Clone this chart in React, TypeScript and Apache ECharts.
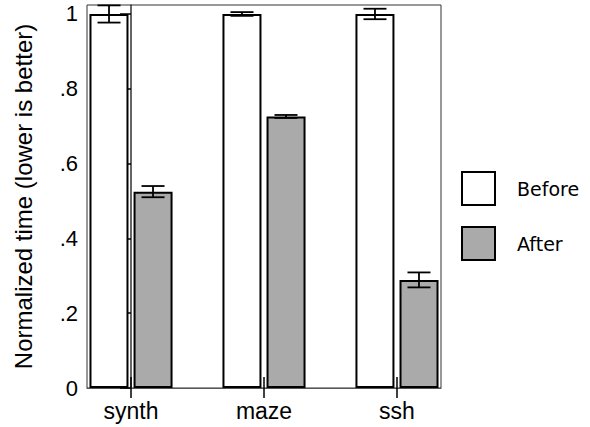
import React, { useEffect, useRef } from "react";
import * as echarts from "echarts";

const categories = ["synth", "maze", "ssh"];
const categoryPositions = [0, 1, 2];
const beforeValues = [1, 1, 1];
const beforeErrors = [0.023, 0.005, 0.014];
const afterValues = [0.525, 0.726, 0.289];
const afterErrors = [0.015, 0.004, 0.02];
const yTicks = [0, 0.2, 0.4, 0.6, 0.8, 1];
const yTickLabels = ["0", ".2", ".4", ".6", ".8", "1"];
const seriesNames = ["Before", "After"];

export default function App() {
  const ref = useRef<HTMLDivElement>(null);
  useEffect(() => {
    if (!ref.current) return;
    const chart = echarts.init(ref.current, null, { renderer: "svg" });
    const font = "'Liberation Sans', Arial, Helvetica, sans-serif";
    const xMin = -0.331;
    const xMax = 2.331;
    const errData: number[][] = [];
    categoryPositions.forEach((p, i) => {
      errData.push([p, beforeValues[i] - beforeErrors[i], beforeValues[i] + beforeErrors[i], 0]);
      errData.push([p, afterValues[i] - afterErrors[i], afterValues[i] + afterErrors[i], 1]);
    });
    chart.setOption({
      animation: false,
      backgroundColor: "#fff",
      grid: {
        left: 87,
        right: 149,
        top: 5,
        bottom: 39,
        show: true,
        borderColor: "#333",
        borderWidth: 1,
        backgroundColor: "transparent",
      },
      legend: {
        data: seriesNames,
        orient: "vertical",
        left: 461,
        top: 171,
        itemWidth: 33,
        itemHeight: 33,
        itemGap: 20,
        icon: "rect",
        padding: 0,
        itemStyle: { borderJoin: "miter" },
        textStyle: {
          fontFamily: "'DejaVu Sans', Verdana, sans-serif",
          fontSize: 19,
          color: "#000",
          padding: [0, 0, 0, 17],
        },
        selectedMode: false,
      },
      xAxis: [
        {
          type: "value",
          min: xMin,
          max: xMax,
          position: "bottom",
          axisLine: { show: true, lineStyle: { color: "#555", width: 1 } },
          axisTick: {
            show: true,
            customValues: categoryPositions,
            length: 10,
            lineStyle: { color: "#000", width: 1.5 },
          },
          axisLabel: {
            customValues: categoryPositions,
            formatter: (v: number) => categories[Math.round(v)] ?? "",
            fontFamily: font,
            fontSize: 23,
            color: "#000",
            margin: 11,
          },
          splitLine: { show: false },
        },
        {
          type: "value",
          min: xMin,
          max: xMax,
          position: "top",
          offset: -383,
          axisLine: { show: false },
          axisTick: {
            show: true,
            customValues: categoryPositions,
            length: 11,
            lineStyle: { color: "#000", width: 1.5 },
          },
          axisLabel: { show: false },
          splitLine: { show: false },
        },
      ],
      yAxis: {
        type: "value",
        min: 0,
        max: 1.024,
        name: "Normalized time (lower is better)",
        nameLocation: "middle",
        nameGap: 52,
        nameTextStyle: { fontFamily: font, fontSize: 24, color: "#000" },
        axisLine: { show: true, lineStyle: { color: "#333", width: 1.5 } },
        axisTick: {
          show: true,
          customValues: yTicks,
          length: 11,
          lineStyle: { color: "#000", width: 1.5 },
        },
        axisLabel: {
          customValues: yTicks,
          formatter: (v: number) => {
            const idx = yTicks.findIndex((t) => Math.abs(t - v) < 1e-6);
            return idx >= 0 ? yTickLabels[idx] : "";
          },
          fontFamily: font,
          fontSize: 22,
          color: "#000",
          margin: 9,
        },
        splitLine: { show: false },
      },
      series: [
        {
          name: seriesNames[0],
          type: "bar",
          xAxisIndex: 0,
          barWidth: 39,
          barGap: "13%",
          data: categoryPositions.map((p, i) => [p, beforeValues[i]]),
          itemStyle: { color: "#ffffff", borderColor: "#000", borderWidth: 2, borderJoin: "miter" },
        },
        {
          name: seriesNames[1],
          type: "bar",
          xAxisIndex: 0,
          barWidth: 39,
          barGap: "13%",
          data: categoryPositions.map((p, i) => [p, afterValues[i]]),
          itemStyle: { color: "#aaaaaa", borderColor: "#000", borderWidth: 2, borderJoin: "miter" },
        },
        {
          name: "errors",
          type: "custom",
          xAxisIndex: 0,
          clip: false,
          z: 5,
          data: errData,
          renderItem: (params: any, api: any) => {
            const x = api.value(0);
            const lo = api.value(1);
            const hi = api.value(2);
            const g = api.value(3);
            const pLo = api.coord([x, lo]);
            const pHi = api.coord([x, hi]);
            const off = g === 0 ? -22 : 22;
            const cx = pLo[0] + off;
            const hw = 11.5;
            const style = { stroke: "#000", lineWidth: 1.8 };
            return {
              type: "group",
              children: [
                { type: "line", shape: { x1: cx, y1: pLo[1], x2: cx, y2: pHi[1] }, style },
                { type: "line", shape: { x1: cx - hw, y1: pLo[1], x2: cx + hw, y2: pLo[1] }, style },
                { type: "line", shape: { x1: cx - hw, y1: pHi[1], x2: cx + hw, y2: pHi[1] }, style },
              ],
            };
          },
        },
      ],
    });
    return () => chart.dispose();
  }, []);
  return <div ref={ref} style={{ width: 590, height: 427, position: "absolute", left: 0, top: 0 }} />;
}
